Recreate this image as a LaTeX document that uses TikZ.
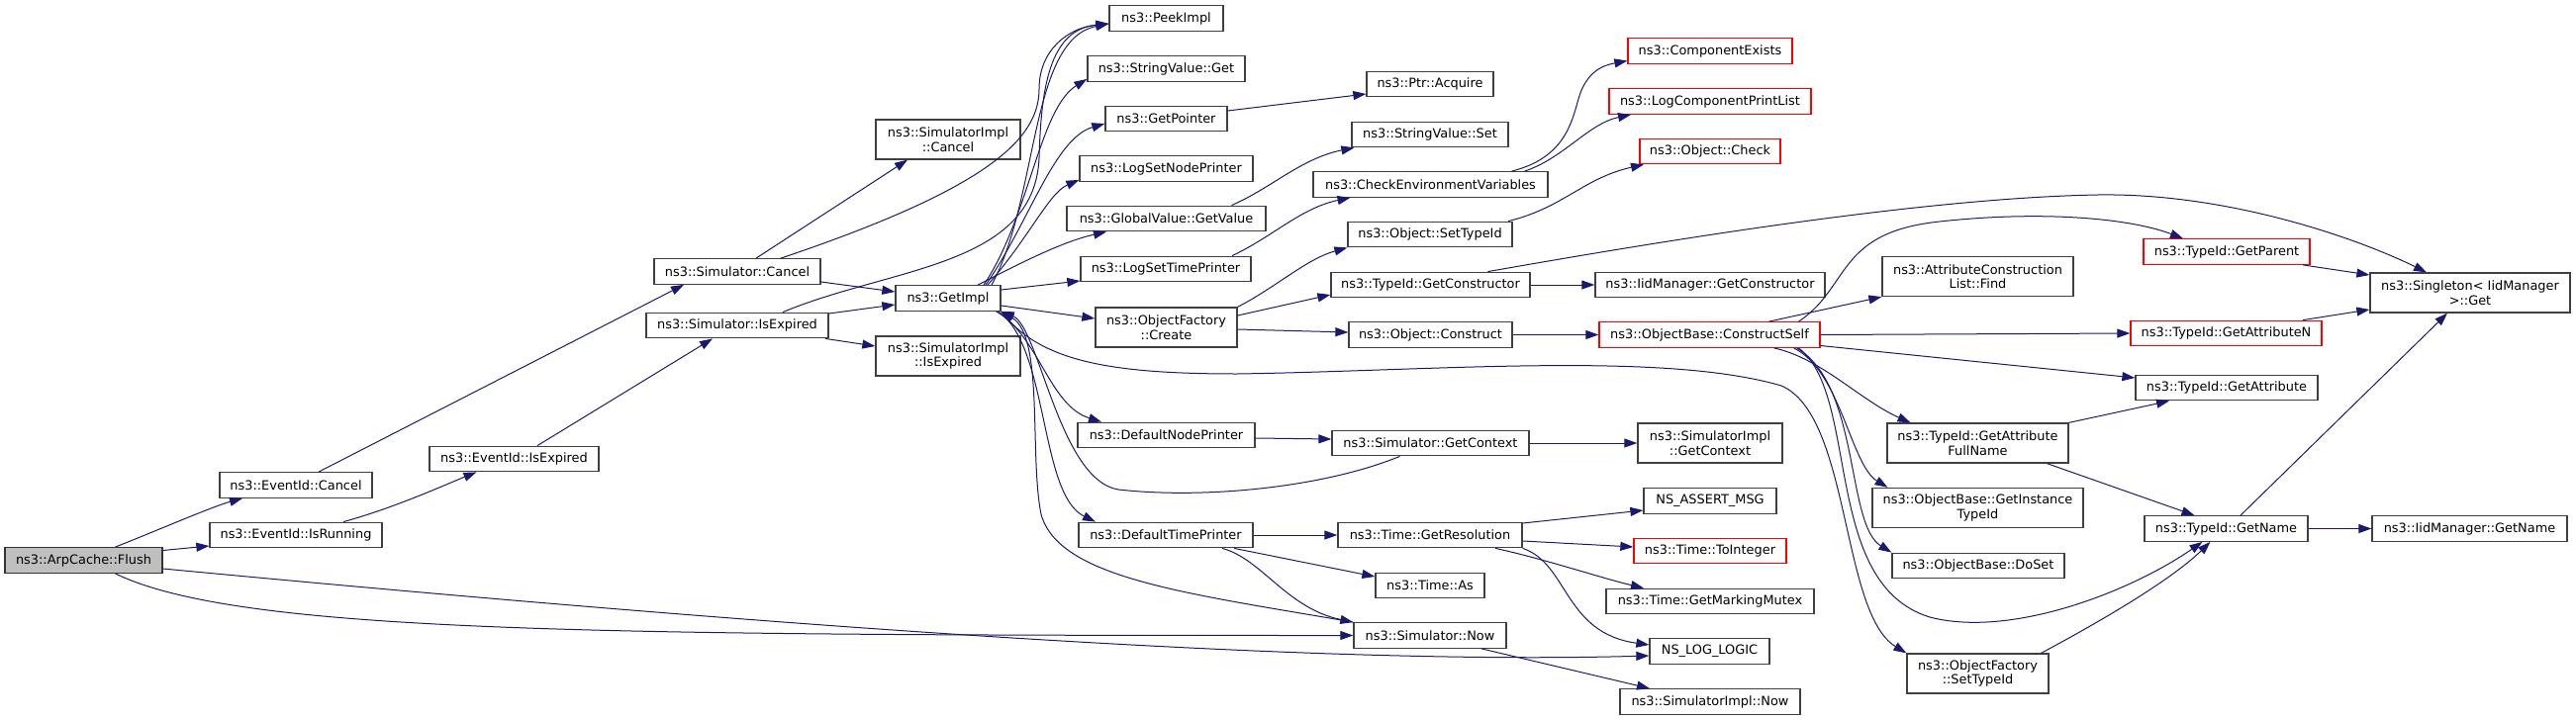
\documentclass[tikz,border=0pt]{standalone}
\usepackage{fontspec}
\setmainfont{DejaVu Sans}
\usetikzlibrary{arrows.meta}
\definecolor{edgecol}{HTML}{191970}
\definecolor{boxcol}{HTML}{404040}
\definecolor{flushfill}{HTML}{BFBFBF}
\definecolor{redcol}{HTML}{FF0000}
\newcommand\nfont{\fontsize{12.9pt}{14.5pt}\selectfont}
\tikzset{
  nd/.style={draw=boxcol, line width=1.3pt, fill=white, inner sep=0pt, align=center, font=\nfont, minimum height=25.5pt},
  nd2/.style={nd, minimum height=40pt},
  rd/.style={nd, draw=redcol},
  gd/.style={nd, fill=flushfill, draw=black!80},
  conn/.style={draw=edgecol, line width=1pt, -{Triangle[length=13pt,width=9pt]}, fill=none},
}
\newcommand\Nd[6]{\node[#1, minimum width=#5pt] (#2) at (#3,#4) {#6};}
\begin{document}
\begin{tikzpicture}[x=1pt,y=-1pt]
\useasboundingbox (0,0) rectangle (2603,728);
% nodes
\Nd{gd}{flush}{84.5}{566.5}{159}{ns3::ArpCache::Flush}
\Nd{nd}{evcancel}{299}{490.5}{154}{ns3::EventId::Cancel}
\Nd{nd}{evrunning}{299}{541}{174}{ns3::EventId::IsRunning}
\Nd{nd}{evexpired}{519.5}{464}{171}{ns3::EventId::IsExpired}
\Nd{nd}{simcancel}{745}{274.5}{168}{ns3::Simulator::Cancel}
\Nd{nd}{simexpired}{745}{329}{184}{ns3::Simulator::IsExpired}
\Nd{nd2}{implcancel}{958}{141}{146}{ns3::SimulatorImpl\\::Cancel}
\Nd{nd}{getimpl}{958}{301.5}{106}{ns3::GetImpl}
\Nd{nd2}{implexpired}{958}{360}{146}{ns3::SimulatorImpl\\::IsExpired}
\Nd{nd}{peek}{1178.5}{18.5}{115}{ns3::PeekImpl}
\Nd{nd}{strget}{1178.5}{69.5}{159}{ns3::StringValue::Get}
\Nd{nd}{getptr}{1178.5}{120}{123}{ns3::GetPointer}
\Nd{nd}{lognode}{1178.5}{170.5}{175}{ns3::LogSetNodePrinter}
\Nd{nd}{gvget}{1178.5}{221}{201}{ns3::GlobalValue::GetValue}
\Nd{nd}{logtime}{1178}{272}{172}{ns3::LogSetTimePrinter}
\Nd{nd2}{ofcreate}{1178.5}{331}{143}{ns3::ObjectFactory\\::Create}
\Nd{nd}{defnode}{1178.5}{440}{179}{ns3::DefaultNodePrinter}
\Nd{nd}{deftime}{1178}{541}{176}{ns3::DefaultTimePrinter}
\Nd{nd}{ptracq}{1445}{85}{128}{ns3::Ptr::Acquire}
\Nd{nd}{strset}{1445}{136}{158}{ns3::StringValue::Set}
\Nd{nd}{checkenv}{1445.5}{186.5}{237}{ns3::CheckEnvironmentVariables}
\Nd{nd}{objsettid}{1445}{237}{166}{ns3::Object::SetTypeId}
\Nd{nd}{tidgetctor}{1445.5}{288}{201}{ns3::TypeId::GetConstructor}
\Nd{nd}{objconstruct}{1445.5}{338.5}{165}{ns3::Object::Construct}
\Nd{nd}{simgetctx}{1445.5}{448}{199}{ns3::Simulator::GetContext}
\Nd{nd}{timeres}{1445}{541}{186}{ns3::Time::GetResolution}
\Nd{nd}{timeas}{1445}{592}{110}{ns3::Time::As}
\Nd{nd}{simnow}{1445}{642.5}{154}{ns3::Simulator::Now}
\Nd{rd}{compexists}{1728}{51.5}{166}{ns3::ComponentExists}
\Nd{rd}{logcpl}{1728}{102.5}{204}{ns3::LogComponentPrintList}
\Nd{rd}{objcheck}{1728}{153}{142}{ns3::Object::Check}
\Nd{nd}{iidgetctor}{1728}{288}{232}{ns3::IidManager::GetConstructor}
\Nd{rd}{constructself}{1727.5}{338.5}{223}{ns3::ObjectBase::ConstructSelf}
\Nd{nd2}{implgetctx}{1728}{448}{146}{ns3::SimulatorImpl\\::GetContext}
\Nd{nd}{assertmsg}{1728}{506.5}{134}{NS\_ASSERT\_MSG}
\Nd{rd}{tointeger}{1728}{557}{154}{ns3::Time::ToInteger}
\Nd{nd}{markmutex}{1728}{608}{210}{ns3::Time::GetMarkingMutex}
\Nd{nd}{nslog}{1727.5}{658.5}{121}{NS\_LOG\_LOGIC}
\Nd{nd}{implnow}{1728}{709.5}{182}{ns3::SimulatorImpl::Now}
\Nd{nd2}{acfind}{1998.5}{279.5}{193}{ns3::AttributeConstruction\\List::Find}
\Nd{nd2}{fullname}{1998.5}{448}{183}{ns3::TypeId::GetAttribute\\FullName}
\Nd{nd2}{instancetid}{1998.5}{513.5}{213}{ns3::ObjectBase::GetInstance\\TypeId}
\Nd{nd}{doset}{1999}{572}{174}{ns3::ObjectBase::DoSet}
\Nd{nd2}{oftsettid}{1998.5}{681}{143}{ns3::ObjectFactory\\::SetTypeId}
\Nd{rd}{getparent}{2250}{254.5}{168}{ns3::TypeId::GetParent}
\Nd{nd2}{singleton}{2496}{296}{202}{ns3::Singleton< IidManager\\>::Get}
\Nd{rd}{getattrn}{2249.5}{337}{193}{ns3::TypeId::GetAttributeN}
\Nd{nd}{getattr}{2250}{392}{184}{ns3::TypeId::GetAttribute}
\Nd{nd}{getname}{2249.5}{534.5}{165}{ns3::TypeId::GetName}
\Nd{nd}{iidgetname}{2495.5}{534.5}{197}{ns3::IidManager::GetName}
% edges from Flush
\draw[conn] ([xshift=32pt]flush.north) .. controls (150,540) and (215,512) .. ([xshift=-54pt]evcancel.south);
\draw[conn] ([yshift=10pt]flush.east) -- ([yshift=-11pt]evrunning.west);
\draw[conn] ([xshift=32pt]flush.south) .. controls (240,640) and (600,642.5) .. (simnow.west);
\draw[conn] ([yshift=-8.5pt]flush.east) .. controls (850,640) and (1350,672) .. ([yshift=-4.5pt]nslog.west);
% EventId
\draw[conn] ([xshift=23pt]evcancel.north) -- ([xshift=-54pt]simcancel.south);
\draw[conn] ([xshift=48pt]evrunning.north) .. controls (400,513) and (450,490) .. ([xshift=-38pt]evexpired.south);
\draw[conn] ([xshift=23.5pt]evexpired.north) -- ([xshift=-25pt]simexpired.south);
% Simulator
\draw[conn] ([xshift=19pt]simcancel.north) -- ([xshift=-41pt]implcancel.south);
\draw[conn] ([yshift=-10.5pt]simcancel.east) -- ([yshift=6.5pt]getimpl.west);
\draw[conn] ([xshift=44pt]simcancel.north) .. controls (1000,190) and (1050,140) .. (1050,90) .. controls (1050,50) and (1080,28) .. ([yshift=-5.5pt]peek.west);
\draw[conn] ([xshift=46pt]simexpired.north) .. controls (900,270) and (1045,270) .. (1050,160) .. controls (1052,90) and (1060,30) .. ([yshift=-5.5pt]peek.west);
\draw[conn] ([yshift=12pt]simexpired.east) -- ([yshift=-6.5pt]getimpl.west);
\draw[conn] ([xshift=89pt]simexpired.south) -- ([yshift=10pt]implexpired.west);
% GetImpl
\draw[conn] ([xshift=44pt]getimpl.north) .. controls (1050,200) and (1040,40) .. ([yshift=-5.5pt]peek.west);
\draw[conn] ([xshift=36pt]getimpl.north) .. controls (1040,220) and (1050,110) .. ([yshift=3pt]strget.south west);
\draw[conn] ([xshift=38pt]getimpl.north) .. controls (1040,225) and (1065,140) .. ([yshift=-5pt]getptr.west);
\draw[conn] ([xshift=40pt]getimpl.north) .. controls (1040,240) and (1060,195) .. ([yshift=2pt]lognode.south west);
\draw[conn] ([xshift=30pt]getimpl.north) .. controls (1020,272) and (1070,245) .. ([xshift=-60.5pt]gvget.south);
\draw[conn] ([yshift=8.5pt]getimpl.east) -- ([yshift=-12pt]logtime.west);
\draw[conn] ([yshift=-7.5pt]getimpl.east) -- ([yshift=9pt]ofcreate.west);
\draw[conn] ([xshift=-5pt]getimpl.south east) .. controls (1050,340) and (1060,410) .. ([xshift=-65.5pt]defnode.north);
\draw[conn] ([xshift=-3pt]getimpl.south east) .. controls (1060,350) and (1050,500) .. ([xshift=-71pt]deftime.north);
\draw[conn] ([xshift=-31pt]simgetctx.south) .. controls (1340,492) and (1220,505) .. (1130,495) .. controls (1070,485) and (1050,330) .. (getimpl.south east);
\draw[conn] (simnow.north west) .. controls (1200,600) and (1070,585) .. (1052,520) .. controls (1040,460) and (1055,340) .. (getimpl.south east);
\draw[conn] (getimpl.south east) .. controls (1050,365) and (1120,378) .. (1250,378) .. controls (1450,375) and (1680,355) .. (1800,390) .. controls (1870,420) and (1860,620) .. (oftsettid.north west);
% ObjectFactory::Create etc.
\draw[conn] (ofcreate.north east) .. controls (1290,290) and (1320,262) .. (objsettid.south west);
\draw[conn] ([yshift=12pt]ofcreate.east) -- ([yshift=-10pt]tidgetctor.west);
\draw[conn] ([yshift=-2pt]ofcreate.east) -- ([yshift=2.5pt]objconstruct.west);
\draw[conn] ([yshift=8pt]getptr.east) -- ([yshift=-10pt]ptracq.west);
\draw[conn] ([xshift=66pt]gvget.north) .. controls (1285,190) and (1315,160) .. ([xshift=3pt]strset.south west);
\draw[conn] ([xshift=67pt]logtime.north) .. controls (1285,240) and (1315,210) .. ([xshift=-81pt]checkenv.south);
\draw[conn] ([xshift=82pt]checkenv.north) .. controls (1580,160) and (1588,125) .. (1595,100) .. controls (1603,72) and (1620,66) .. ([yshift=-10pt]compexists.west);
\draw[conn] ([xshift=95pt]checkenv.north) .. controls (1580,160) and (1605,125) .. ([xshift=-80pt]logcpl.south);
\draw[conn] ([xshift=79pt]objsettid.north) .. controls (1580,210) and (1600,180) .. ([xshift=-67pt]objcheck.south);
\draw[conn] ([xshift=58pt]tidgetctor.north) .. controls (1700,240) and (1950,200) .. (2120,197) .. controls (2250,195) and (2380,240) .. ([xshift=-44pt]singleton.north);
\draw[conn] (tidgetctor.east) -- (iidgetctor.west);
\draw[conn] (objconstruct.east) -- (constructself.west);
% ConstructSelf
\draw[conn] ([xshift=60pt]constructself.north) -- (acfind.south west);
\draw[conn] ([xshift=90pt]constructself.north) .. controls (1870,290) and (1855,235) .. (1960,224) .. controls (2060,213) and (2150,220) .. ([xshift=-44pt]getparent.north);
\draw[conn] (constructself.east) -- (getattrn.west);
\draw[conn] ([yshift=-11pt]constructself.east) -- ([yshift=10pt]getattr.west);
\draw[conn] ([xshift=65pt]constructself.south) .. controls (1840,362) and (1880,405) .. ([xshift=-68pt]fullname.north);
\draw[conn] ([xshift=85pt]constructself.south) .. controls (1860,375) and (1870,470) .. ([xshift=-91pt]instancetid.north);
\draw[conn] ([xshift=88pt]constructself.south) .. controls (1880,390) and (1865,530) .. (doset.north west);
\draw[conn] ([xshift=90pt]constructself.south) .. controls (1880,400) and (1840,590) .. (1950,624) .. controls (2030,645) and (2150,600) .. ([xshift=-24pt]getname.south);
% printers
\draw[conn] ([yshift=-3pt]defnode.east) -- ([yshift=4pt]simgetctx.west);
\draw[conn] (simgetctx.east) -- (implgetctx.west);
\draw[conn] (deftime.east) -- (timeres.west);
\draw[conn] ([xshift=69pt]deftime.south) -- ([yshift=9pt]timeas.west);
\draw[conn] ([xshift=57pt]deftime.south) .. controls (1275,565) and (1300,615) .. (simnow.north west);
\draw[conn] ([yshift=12pt]timeres.east) -- ([yshift=-9.5pt]assertmsg.west);
\draw[conn] ([yshift=-6pt]timeres.east) -- ([yshift=4pt]tointeger.west);
\draw[conn] ([xshift=66pt]timeres.south) .. controls (1560,565) and (1620,585) .. ([xshift=-67pt]markmutex.north);
\draw[conn] (timeres.south east) .. controls (1585,570) and (1580,640) .. ([yshift=6.5pt]nslog.west);
\draw[conn] ([xshift=52pt]simnow.south) -- ([xshift=-61pt]implnow.north);
% TypeId
\draw[conn] ([xshift=77pt]getparent.south) -- ([yshift=18pt]singleton.west);
\draw[conn] ([xshift=77.5pt]getattrn.north) -- ([yshift=-17pt]singleton.west);
\draw[conn] ([xshift=14.5pt]getname.north) -- ([xshift=-23pt]singleton.south);
\draw[conn] (getname.east) -- (iidgetname.west);
\draw[conn] (fullname.north east) -- ([xshift=-58pt]getattr.south);
\draw[conn] ([xshift=70pt]fullname.south) -- ([xshift=-32pt]getname.north);
\draw[conn] ([xshift=64pt]oftsettid.north) .. controls (2110,635) and (2190,590) .. ([xshift=-16pt]getname.south);
\end{tikzpicture}
\end{document}
